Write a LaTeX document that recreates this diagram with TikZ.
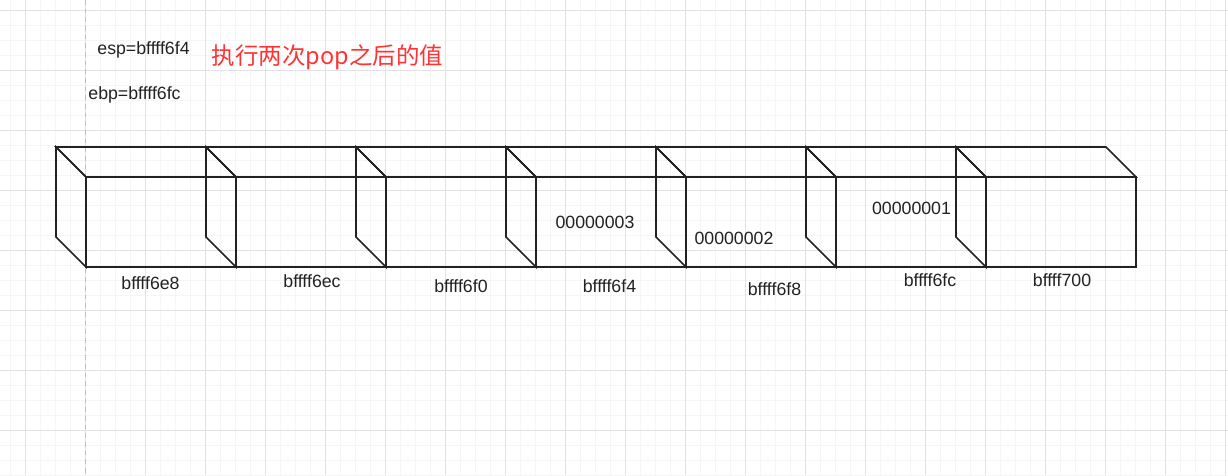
\documentclass[tikz,border=0pt]{standalone}
\usepackage{fontspec}
\setmainfont{Liberation Sans}
\newfontfamily\cjk{Noto Sans CJK SC}
\definecolor{gridminor}{HTML}{F5F5F5}
\definecolor{gridmajor}{HTML}{E2E2E2}
\definecolor{guide}{HTML}{BDBDBD}
\definecolor{redtext}{HTML}{FF3333}
\definecolor{ink}{HTML}{222222}
\tikzset{
  lbl/.style={font=\fontsize{13.3}{15}\selectfont, text=ink, inner sep=0pt, anchor=center},
  redlbl/.style={font=\cjk\fontsize{17.6}{20}\selectfont, text=redtext, inner sep=0pt, anchor=center},
  cubeline/.style={draw=ink, line width=1.15pt, line join=miter},
}
\begin{document}
\begin{tikzpicture}[x=0.75pt,y=-0.75pt]
\useasboundingbox (0,0) rectangle (1228,475);
\fill[white] (0,0) rectangle (1228,475);
% grid
\foreach \x in {10,25,...,1225} \draw[gridminor, line width=0.75pt] (\x,0) -- (\x,475);
\foreach \y in {10,25,...,475} \draw[gridminor, line width=0.75pt] (0,\y) -- (1228,\y);
\foreach \x in {25,85,...,1225} \draw[gridmajor, line width=0.75pt] (\x,0) -- (\x,475);
\foreach \y in {10,70,...,475} \draw[gridmajor, line width=0.75pt] (0,\y) -- (1228,\y);
% guide line
\draw[guide, line width=1.2pt, dash pattern=on 3.5pt off 3pt] (85.5,0) -- (85.5,475);
% cubes
\foreach \i in {0,...,6} {
  \pgfmathsetmacro{\a}{56+150*\i}
  \pgfmathsetmacro{\b}{86+150*\i}
  \pgfmathsetmacro{\c}{206+150*\i}
  \pgfmathsetmacro{\d}{236+150*\i}
  \draw[cubeline] (\a,147) -- (\c,147) -- (\d,177) -- (\b,177) -- cycle;
  \draw[cubeline] (\a,147) -- (\b,177) -- (\b,267) -- (\a,237) -- cycle;
  \draw[cubeline] (\b,177) rectangle (\d,267);
}
% texts
\node[lbl] (esp) at (143.5,50) {esp=bffff6f4};
\node[lbl] (ebp) at (134.5,95) {ebp=bffff6fc};
\node[redlbl] (title) at (327.5,57.5) {执行两次pop之后的值};
\node[lbl] (a1) at (150.5,283.5) {bffff6e8};
\node[lbl] (a2) at (312,281.5) {bffff6ec};
\node[lbl] (a3) at (461,286) {bffff6f0};
\node[lbl] (a4) at (609.5,286.5) {bffff6f4};
\node[lbl] (a5) at (774.5,289) {bffff6f8};
\node[lbl] (a6) at (930,280.5) {bffff6fc};
\node[lbl] (a7) at (1062,280.5) {bffff700};
\node[lbl] (v3) at (595,222.5) {00000003};
\node[lbl] (v2) at (734,238) {00000002};
\node[lbl] (v1) at (911.5,208) {00000001};
\end{tikzpicture}
\end{document}
